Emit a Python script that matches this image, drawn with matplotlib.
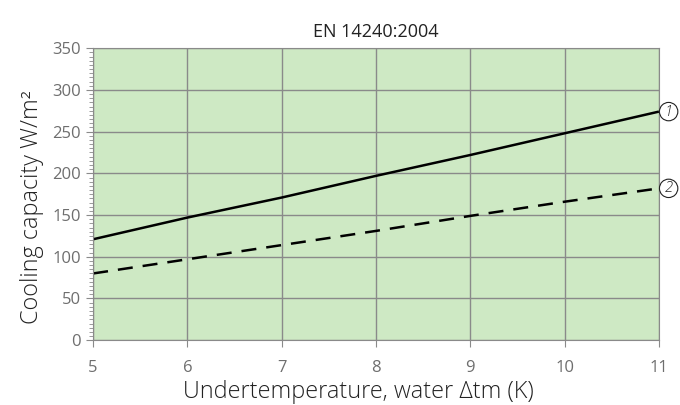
import matplotlib.pyplot as plt
from matplotlib.ticker import MultipleLocator

plt.rcParams['font.family'] = ['Open Sans', 'DejaVu Sans']

# datos
dt = [5, 6, 7, 8, 9, 10, 11]
curve1 = [121, 147, 171, 197, 222, 248, 274]
curve2 = [80, 97, 114, 131, 149, 166, 182]

fig = plt.figure(figsize=(6.8, 4.05), dpi=100)
ax = fig.add_axes([0.137, 0.160, 0.832, 0.721])
ax.set_facecolor('#cee9c4')

ax.plot(dt, curve1, color='black', lw=1.8, solid_capstyle='butt')
ax.plot(dt, curve2, color='black', lw=1.8, dashes=(6, 4))

ax.set_xlim(5, 11)
ax.set_ylim(0, 350)
ax.xaxis.set_major_locator(MultipleLocator(1))
ax.yaxis.set_major_locator(MultipleLocator(50))
ax.yaxis.set_minor_locator(MultipleLocator(5))
ax.grid(True, which='major', color='#8a8a8a', lw=1)
ax.set_axisbelow(True)

for s in ax.spines.values():
    s.set_color('#8a8a8a')
ax.tick_params(axis='both', colors='#8a8a8a', labelcolor='#6e6e6e', labelsize=12)
ax.tick_params(axis='y', which='major', length=5, direction='out', pad=4)
ax.tick_params(axis='y', which='minor', length=3, color='#8a8a8a')
ax.tick_params(axis='x', length=5, pad=9)

ax.set_title('EN 14240:2004', fontsize=13, color='#222222', pad=8)
ax.set_xlabel('Undertemperature, water \u0394tm (K)', fontsize=16.8, color='#222222',
              labelpad=3, fontweight='light')
ax.set_ylabel('Cooling capacity W/m\u00b2', fontsize=16.8, color='#222222',
              labelpad=6, fontweight='light')
ax.xaxis.label.set_x(0.469)
ax.yaxis.label.set_y(0.455)

for val, lab in [(curve1[-1], '1'), (curve2[-1], '2')]:
    ax.annotate(lab, xy=(dt[-1], val), xytext=(7, 0), textcoords='offset points',
                ha='center', va='center', fontsize=10.5, style='italic', color='#222222',
                annotation_clip=False, fontweight='light',
                bbox=dict(boxstyle='circle,pad=0.15', fc='white', ec='#222222', lw=0.8))

fig.savefig('out.png', dpi=100)
